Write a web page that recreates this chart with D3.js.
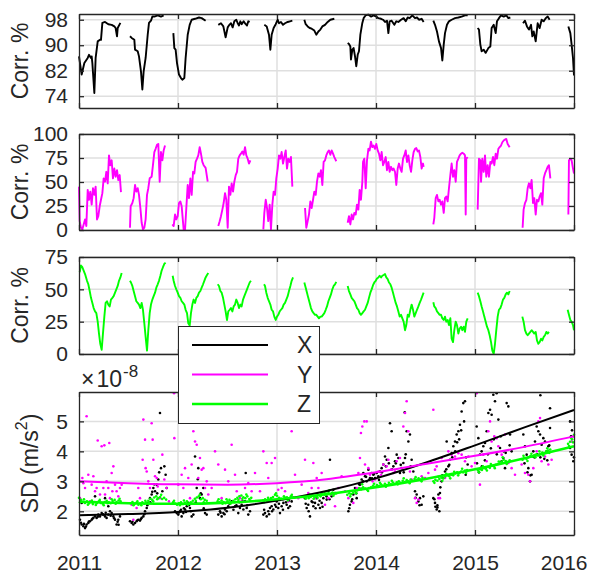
<!DOCTYPE html>
<html>
<head>
<meta charset="utf-8">
<script src="https://cdn.jsdelivr.net/npm/d3@7"></script>
<style>
  body { margin: 0; background: #fff; }
  svg { display: block; }
  text { font-family: "Liberation Sans", Arial, sans-serif; fill: #262626; }
  .axis text { font-size: 21px; fill: #262626; }
  .axis path, .axis line { stroke: #262626; stroke-width: 1.3; }
  .grid { stroke: #dfdfdf; stroke-width: 1.5; }
</style>
</head>
<body>
<div class="chart"></div>
<script>
// tick values
const years = [2011, 2012, 2013, 2014, 2015, 2016];
const corrXTicks = [74, 82, 90, 98];
const corrYTicks = [0, 25, 50, 75, 100];
const corrZTicks = [0, 25, 50, 75];
const sdTicks = [2, 3, 4, 5];

// correlation, X axis (decimal year, %), one array per gap-free segment
const corrX = [
  [[2011.000,86.5],[2011.027,80.8],[2011.054,84.4],[2011.088,86.0],[2011.101,87.0],[2011.121,86.0],[2011.128,86.5],[2011.135,84.4],[2011.155,75.0],[2011.168,86.0],[2011.189,91.2],[2011.212,91.7],[2011.222,91.7],[2011.236,97.0],[2011.263,97.3],[2011.296,96.6],[2011.330,96.4],[2011.357,95.9],[2011.370,95.4],[2011.384,92.8],[2011.391,95.4],[2011.418,97.0]],
  [[2011.515,92.8],[2011.532,92.3],[2011.559,91.7],[2011.566,88.6],[2011.593,88.1],[2011.606,86.5],[2011.626,81.8],[2011.640,76.1],[2011.653,81.8],[2011.673,86.0],[2011.694,93.3],[2011.707,97.0],[2011.727,97.7],[2011.741,99.0],[2011.761,99.0],[2011.795,99.4],[2011.828,99.0],[2011.855,99.4]],
  [[2011.953,93.8],[2011.963,89.1],[2011.976,88.6],[2011.990,84.4],[2012.010,80.8],[2012.030,79.7],[2012.044,79.2],[2012.064,79.7],[2012.077,86.0],[2012.098,93.3],[2012.118,96.4],[2012.138,98.0],[2012.172,98.3],[2012.212,98.7],[2012.239,98.5],[2012.279,97.7]],
  [[2012.407,96.4],[2012.434,96.9],[2012.458,95.9],[2012.481,92.5],[2012.502,95.6],[2012.519,96.4],[2012.535,96.9],[2012.552,95.6],[2012.569,97.5],[2012.589,98.0],[2012.603,96.9],[2012.616,96.2],[2012.630,97.5],[2012.643,96.6],[2012.663,97.5],[2012.684,96.6],[2012.697,96.2],[2012.710,97.5],[2012.724,97.3]],
  [[2012.872,96.4],[2012.896,95.9],[2012.919,93.3],[2012.933,88.6],[2012.946,93.3],[2012.966,95.4],[2012.987,96.6],[2013.007,98.0],[2013.020,96.9],[2013.040,97.3],[2013.061,96.4],[2013.081,96.9],[2013.108,97.3],[2013.131,97.5],[2013.155,97.7]],
  [[2013.276,98.0],[2013.290,96.6],[2013.310,95.9],[2013.330,95.4],[2013.350,95.2],[2013.377,94.6],[2013.397,93.3],[2013.418,94.3],[2013.438,94.9],[2013.458,95.9],[2013.485,96.4],[2013.512,97.3],[2013.539,98.0],[2013.579,98.3]],
  [[2013.714,90.7],[2013.727,90.4],[2013.741,89.6],[2013.747,85.5],[2013.761,88.6],[2013.774,89.1],[2013.788,86.5],[2013.801,83.4],[2013.815,87.0],[2013.828,88.1],[2013.842,93.3],[2013.862,97.0],[2013.875,98.5],[2013.896,99.4],[2013.923,99.6],[2013.949,99.0],[2013.976,99.4],[2014.003,99.0],[2014.024,98.5],[2014.051,98.3],[2014.071,98.0],[2014.091,97.3],[2014.111,97.7],[2014.125,93.8],[2014.138,97.5],[2014.158,97.7],[2014.185,96.4],[2014.205,97.5],[2014.226,97.3],[2014.253,98.0],[2014.279,98.5],[2014.300,97.5],[2014.320,98.7],[2014.340,98.5],[2014.367,99.4],[2014.394,98.5],[2014.414,98.7],[2014.434,98.0],[2014.461,98.3],[2014.481,97.3]],
  [[2014.579,97.7],[2014.596,96.4],[2014.616,94.3],[2014.636,91.2],[2014.657,89.1],[2014.670,85.2],[2014.684,90.2],[2014.697,93.8],[2014.717,96.4],[2014.737,97.5],[2014.764,98.0],[2014.798,98.5],[2014.832,98.7],[2014.865,99.0],[2014.899,99.4],[2014.926,99.4]],
  [[2015.027,95.4],[2015.040,94.9],[2015.054,90.2],[2015.067,88.1],[2015.088,88.6],[2015.108,87.6],[2015.135,89.1],[2015.155,89.6],[2015.168,95.4],[2015.189,96.4],[2015.209,93.8],[2015.222,97.5],[2015.242,98.5],[2015.263,99.4],[2015.290,99.0],[2015.316,99.4],[2015.337,98.5],[2015.357,98.7]],
  [[2015.485,96.9],[2015.505,97.7],[2015.525,95.9],[2015.545,94.9],[2015.566,96.4],[2015.579,92.8],[2015.593,94.3],[2015.613,91.2],[2015.633,96.9],[2015.653,95.4],[2015.673,98.0],[2015.694,97.5],[2015.714,98.5],[2015.734,99.0],[2015.754,98.0]],
  [[2015.943,95.9],[2015.963,93.8],[2015.976,90.2],[2015.990,86.0],[2016.000,80.5]]
];

// correlation, Y axis
const corrY = [
  [[2011.000,45.2],[2011.007,9.2],[2011.020,2.4],[2011.034,0.7],[2011.047,5.8],[2011.061,11.0],[2011.074,4.1],[2011.088,41.8],[2011.101,31.5],[2011.114,40.0],[2011.128,26.4],[2011.141,43.5],[2011.155,36.6],[2011.168,45.2],[2011.182,11.0],[2011.195,14.4],[2011.209,24.7],[2011.222,31.5],[2011.236,38.4],[2011.249,53.8],[2011.263,50.3],[2011.276,60.6],[2011.290,48.6],[2011.303,77.7],[2011.316,67.5],[2011.330,72.6],[2011.343,53.8],[2011.357,64.0],[2011.370,55.5],[2011.384,62.3],[2011.397,52.0],[2011.411,57.2],[2011.424,39.4]],
  [[2011.515,2.4],[2011.522,24.7],[2011.539,28.1],[2011.552,33.2],[2011.566,46.9],[2011.579,40.0],[2011.593,43.5],[2011.606,36.6],[2011.620,22.9],[2011.633,7.5],[2011.646,0.7],[2011.660,2.4],[2011.673,11.0],[2011.687,36.6],[2011.700,43.5],[2011.714,53.8],[2011.734,55.5],[2011.747,67.5],[2011.761,81.2],[2011.774,84.6],[2011.788,88.7],[2011.801,89.7],[2011.815,50.3],[2011.828,81.2],[2011.842,72.6],[2011.855,82.9],[2011.869,88.0]],
  [[2011.943,5.8],[2011.956,4.1],[2011.970,16.1],[2011.983,11.0],[2011.997,14.4],[2012.010,28.1],[2012.024,29.8],[2012.037,24.7],[2012.057,0.7],[2012.071,0.0],[2012.084,22.9],[2012.098,46.9],[2012.111,33.2],[2012.125,53.8],[2012.138,36.6],[2012.152,60.6],[2012.165,58.9],[2012.178,70.9],[2012.192,74.3],[2012.205,77.7],[2012.219,86.3],[2012.232,79.5],[2012.246,70.9],[2012.259,67.5],[2012.279,64.7],[2012.300,50.3]],
  [[2012.407,4.1],[2012.421,9.2],[2012.434,14.4],[2012.448,21.2],[2012.461,28.1],[2012.475,38.4],[2012.488,31.5],[2012.502,2.4],[2012.515,45.2],[2012.529,36.6],[2012.542,48.6],[2012.556,40.0],[2012.569,50.3],[2012.583,57.2],[2012.596,60.6],[2012.609,74.3],[2012.623,77.7],[2012.636,79.5],[2012.650,81.8],[2012.663,78.4],[2012.677,86.3],[2012.690,77.7],[2012.704,74.3],[2012.717,69.2],[2012.731,72.6]],
  [[2012.862,0.7],[2012.872,17.8],[2012.886,31.5],[2012.899,22.9],[2012.912,9.2],[2012.926,26.4],[2012.939,0.7],[2012.953,26.4],[2012.966,40.0],[2012.980,36.6],[2012.993,53.8],[2013.007,64.0],[2013.020,77.7],[2013.034,74.3],[2013.047,81.2],[2013.061,69.2],[2013.074,76.0],[2013.088,82.9],[2013.101,64.0],[2013.114,74.3],[2013.128,70.9],[2013.141,76.0],[2013.155,45.2]],
  [[2013.283,22.9],[2013.296,2.4],[2013.310,9.2],[2013.323,16.1],[2013.337,29.8],[2013.350,22.9],[2013.364,31.5],[2013.377,40.0],[2013.391,36.6],[2013.404,50.3],[2013.418,58.9],[2013.431,55.5],[2013.444,62.3],[2013.458,46.9],[2013.471,70.9],[2013.485,72.6],[2013.498,77.7],[2013.512,81.2],[2013.525,82.9],[2013.539,78.4],[2013.552,82.9],[2013.566,79.5],[2013.579,76.0],[2013.599,71.6]],
  [[2013.714,7.5],[2013.727,14.4],[2013.741,5.8],[2013.754,16.1],[2013.768,11.0],[2013.781,17.8],[2013.795,16.1],[2013.808,26.4],[2013.822,21.2],[2013.835,41.8],[2013.848,31.5],[2013.862,50.3],[2013.869,70.9],[2013.882,74.3],[2013.896,43.5],[2013.909,72.6],[2013.923,84.6],[2013.936,82.9],[2013.949,92.1],[2013.963,86.3],[2013.976,88.0],[2013.990,84.6],[2014.003,89.7],[2014.017,82.9],[2014.030,79.5],[2014.044,72.6],[2014.057,81.2],[2014.071,67.5],[2014.084,70.9],[2014.098,76.0],[2014.111,62.3],[2014.125,70.9],[2014.138,60.6],[2014.152,65.8],[2014.165,62.3],[2014.178,64.0],[2014.192,60.6],[2014.205,46.9],[2014.219,64.0],[2014.232,69.2],[2014.246,64.0],[2014.259,60.6],[2014.273,74.3],[2014.286,77.7],[2014.300,82.9],[2014.313,70.9],[2014.327,77.7],[2014.340,67.5],[2014.354,60.6],[2014.367,72.6],[2014.380,81.2],[2014.394,84.6],[2014.407,85.3],[2014.421,81.8],[2014.434,82.9],[2014.448,76.0],[2014.461,64.0],[2014.475,69.2],[2014.481,65.8]],
  [[2014.579,5.8],[2014.589,12.7],[2014.603,33.2],[2014.616,36.6],[2014.630,29.8],[2014.643,31.5],[2014.657,26.4],[2014.670,29.8],[2014.684,17.8],[2014.697,33.2],[2014.710,34.9],[2014.724,29.8],[2014.737,43.5],[2014.751,57.2],[2014.764,69.2],[2014.778,55.5],[2014.791,62.3],[2014.805,50.3],[2014.818,70.9],[2014.832,74.3],[2014.845,77.7],[2014.859,79.5],[2014.872,80.5],[2014.886,79.5],[2014.899,77.7],[2014.906,16.1],[2014.912,74.3],[2014.926,76.0]],
  [[2015.027,21.2],[2015.040,74.3],[2015.054,72.6],[2015.061,50.3],[2015.074,74.3],[2015.088,60.6],[2015.101,77.7],[2015.114,55.5],[2015.128,67.5],[2015.141,55.5],[2015.155,70.9],[2015.168,69.2],[2015.182,76.0],[2015.195,67.5],[2015.209,79.5],[2015.222,74.3],[2015.236,84.6],[2015.249,86.3],[2015.263,88.0],[2015.276,91.4],[2015.290,93.2],[2015.303,94.2],[2015.316,94.9],[2015.330,89.7],[2015.350,86.3]],
  [[2015.481,2.4],[2015.491,21.2],[2015.505,28.1],[2015.519,31.5],[2015.532,43.5],[2015.545,48.6],[2015.559,43.5],[2015.572,52.1],[2015.586,28.1],[2015.599,33.2],[2015.613,16.1],[2015.626,31.5],[2015.640,29.8],[2015.653,34.9],[2015.667,38.4],[2015.680,26.4],[2015.694,53.8],[2015.707,58.9],[2015.721,62.3],[2015.734,65.8],[2015.747,67.5],[2015.761,53.8]],
  [[2015.943,16.1],[2015.949,72.6],[2015.963,74.3],[2015.976,72.6],[2015.990,64.0],[2016.000,58.9]]
];

// correlation, Z axis
const corrZ = [
  [[2011.007,63.2],[2011.020,68.4],[2011.034,67.1],[2011.047,64.5],[2011.061,61.8],[2011.081,56.6],[2011.094,53.9],[2011.108,48.7],[2011.121,43.4],[2011.135,39.5],[2011.148,35.5],[2011.162,32.9],[2011.175,31.6],[2011.189,25.0],[2011.202,15.8],[2011.215,7.9],[2011.229,3.2],[2011.242,15.8],[2011.256,28.9],[2011.269,39.5],[2011.283,40.8],[2011.296,38.2],[2011.310,36.8],[2011.323,42.1],[2011.337,43.4],[2011.350,44.7],[2011.364,47.4],[2011.377,50.0],[2011.391,52.6],[2011.404,56.6],[2011.418,59.2],[2011.431,62.6]],
  [[2011.515,56.6],[2011.525,55.3],[2011.539,52.6],[2011.552,48.7],[2011.566,44.7],[2011.579,40.8],[2011.593,39.5],[2011.606,38.2],[2011.620,35.5],[2011.633,39.5],[2011.646,34.2],[2011.660,23.7],[2011.673,13.2],[2011.687,2.6],[2011.700,18.4],[2011.714,31.6],[2011.727,38.2],[2011.741,42.1],[2011.754,44.7],[2011.768,47.4],[2011.781,51.3],[2011.795,53.9],[2011.808,56.6],[2011.822,60.5],[2011.835,64.5],[2011.848,67.1],[2011.862,69.7],[2011.875,70.5]],
  [[2011.946,60.5],[2011.956,56.6],[2011.970,52.6],[2011.983,50.0],[2011.997,47.4],[2012.010,44.7],[2012.024,43.4],[2012.037,40.8],[2012.051,39.5],[2012.064,38.2],[2012.077,34.2],[2012.091,31.6],[2012.104,23.7],[2012.118,22.0],[2012.131,31.6],[2012.145,38.2],[2012.158,42.1],[2012.172,39.5],[2012.185,43.4],[2012.199,44.7],[2012.212,47.4],[2012.226,48.7],[2012.239,51.3],[2012.253,53.9],[2012.266,56.6],[2012.279,59.2],[2012.293,61.1],[2012.306,62.6]],
  [[2012.401,53.9],[2012.414,52.6],[2012.428,48.7],[2012.441,47.4],[2012.455,43.4],[2012.468,38.2],[2012.481,32.9],[2012.495,26.3],[2012.508,32.9],[2012.522,34.2],[2012.535,35.5],[2012.549,32.9],[2012.562,36.8],[2012.576,38.2],[2012.589,42.1],[2012.603,39.5],[2012.616,35.5],[2012.630,38.2],[2012.643,36.8],[2012.657,42.1],[2012.670,44.7],[2012.684,47.4],[2012.697,50.0],[2012.710,52.6],[2012.724,55.3],[2012.737,56.6]],
  [[2012.869,53.9],[2012.879,52.6],[2012.892,47.4],[2012.906,43.4],[2012.919,40.8],[2012.933,38.2],[2012.946,34.2],[2012.960,32.9],[2012.973,28.9],[2012.987,26.3],[2013.000,28.9],[2013.013,30.3],[2013.027,32.9],[2013.040,34.2],[2013.054,35.5],[2013.067,38.2],[2013.081,39.5],[2013.094,42.1],[2013.108,44.7],[2013.121,48.7],[2013.135,52.6],[2013.148,56.6],[2013.162,59.2]],
  [[2013.276,55.3],[2013.290,51.3],[2013.303,47.4],[2013.316,43.4],[2013.330,39.5],[2013.343,35.5],[2013.357,32.9],[2013.370,31.6],[2013.384,30.3],[2013.397,30.3],[2013.411,28.9],[2013.424,27.6],[2013.438,28.9],[2013.451,28.9],[2013.465,30.3],[2013.478,31.6],[2013.492,34.2],[2013.505,36.8],[2013.519,40.8],[2013.532,43.4],[2013.545,46.1],[2013.559,50.0],[2013.572,52.6],[2013.586,53.9],[2013.599,55.8]],
  [[2013.714,52.6],[2013.727,48.7],[2013.741,46.1],[2013.754,43.4],[2013.768,42.1],[2013.781,40.8],[2013.795,38.2],[2013.808,35.5],[2013.822,34.2],[2013.835,31.6],[2013.848,30.3],[2013.862,31.6],[2013.875,32.9],[2013.889,34.2],[2013.902,36.8],[2013.916,39.5],[2013.929,43.4],[2013.943,47.4],[2013.956,50.0],[2013.970,53.2],[2013.983,55.3],[2013.997,56.6],[2014.010,58.4],[2014.024,59.2],[2014.037,60.5],[2014.051,59.2],[2014.064,60.5],[2014.077,61.1],[2014.091,61.8],[2014.104,59.2],[2014.118,57.9],[2014.131,55.3],[2014.145,53.9],[2014.158,51.3],[2014.172,47.4],[2014.185,43.4],[2014.199,39.5],[2014.212,36.8],[2014.226,32.9],[2014.239,28.9],[2014.253,30.3],[2014.266,27.6],[2014.279,25.0],[2014.293,18.4],[2014.306,22.4],[2014.320,30.3],[2014.333,28.9],[2014.347,34.2],[2014.360,38.2],[2014.374,34.2],[2014.387,28.9],[2014.401,31.6],[2014.414,34.2],[2014.428,36.8],[2014.441,39.5],[2014.455,42.1],[2014.468,44.7],[2014.481,47.4]],
  [[2014.579,40.0],[2014.589,36.8],[2014.603,35.5],[2014.616,32.9],[2014.630,31.6],[2014.643,30.3],[2014.657,30.3],[2014.670,27.6],[2014.684,26.3],[2014.697,28.9],[2014.710,25.0],[2014.724,26.3],[2014.737,22.4],[2014.751,27.6],[2014.764,11.8],[2014.778,9.2],[2014.791,18.4],[2014.805,25.0],[2014.818,22.4],[2014.832,15.8],[2014.845,19.7],[2014.859,21.1],[2014.872,18.4],[2014.886,21.1],[2014.899,17.1],[2014.912,25.0],[2014.926,27.6]],
  [[2015.027,47.4],[2015.040,44.7],[2015.054,40.8],[2015.067,36.8],[2015.081,32.9],[2015.094,28.9],[2015.108,25.0],[2015.121,21.1],[2015.135,18.4],[2015.148,14.5],[2015.162,9.2],[2015.175,2.6],[2015.189,0.0],[2015.202,7.9],[2015.215,18.4],[2015.229,28.9],[2015.242,34.2],[2015.256,35.5],[2015.269,38.2],[2015.283,42.1],[2015.296,43.4],[2015.310,46.1],[2015.323,47.4],[2015.337,46.1],[2015.350,48.7]],
  [[2015.478,28.9],[2015.491,25.0],[2015.505,18.4],[2015.519,15.8],[2015.532,14.5],[2015.545,15.8],[2015.559,17.1],[2015.572,18.4],[2015.586,17.1],[2015.599,15.8],[2015.613,17.1],[2015.626,10.5],[2015.640,7.9],[2015.653,9.2],[2015.667,11.8],[2015.680,10.5],[2015.694,13.2],[2015.707,14.5],[2015.721,17.1],[2015.734,15.8],[2015.747,17.1]],
  [[2015.936,34.2],[2015.949,30.3],[2015.963,26.3],[2015.976,25.0],[2015.990,22.4],[2016.000,18.4]]
];

// standard deviation, x 1e-8 m/s^2 (decimal year, value)
const sdX = [
  [2011.010,1.72],[2011.027,1.56],[2011.044,1.50],[2011.061,1.44],[2011.077,1.56],[2011.094,1.61],[2011.111,1.67],[2011.128,1.72],[2011.145,1.78],[2011.162,1.83],[2011.178,1.78],[2011.195,1.89],[2011.212,1.83],[2011.229,1.94],[2011.246,1.89],[2011.263,1.83],[2011.279,1.78],[2011.296,1.89],[2011.313,2.00],[2011.330,1.94],[2011.347,1.83],[2011.364,1.72],[2011.380,1.56],[2011.397,1.72],[2011.414,1.83],[2011.027,2.28],[2011.162,2.50],[2011.263,2.44],[2011.296,2.17],
  [2011.020,1.62],[2011.050,1.58],[2011.070,1.49],[2011.100,1.66],[2011.135,1.75],[2011.190,1.82],[2011.240,1.90],[2011.270,1.95],[2011.320,1.85],[2011.355,1.77],[2011.390,1.65],[2011.400,1.55],
  [2011.515,1.67],[2011.532,1.61],[2011.549,1.56],[2011.566,1.61],[2011.582,1.67],[2011.599,1.72],[2011.616,1.69],[2011.633,1.78],[2011.650,1.83],[2011.667,2.00],[2011.684,2.11],[2011.700,2.28],[2011.717,2.44],[2011.734,2.56],[2011.751,2.78],[2011.768,2.67],[2011.785,2.89],[2011.801,3.06],[2011.818,5.28],[2011.828,3.44],[2011.842,2.67],[2011.862,3.50],[2011.875,3.22],[2011.886,2.78],
  [2011.540,1.65],[2011.590,1.70],[2011.625,1.74],[2011.660,1.90],[2011.690,2.20],[2011.720,2.30],[2011.740,2.65],[2011.760,2.90],[2011.790,2.60],[2011.810,3.30],
  [2011.970,2.00],[2011.987,1.94],[2012.003,1.89],[2012.020,2.00],[2012.037,1.83],[2012.054,1.94],[2012.071,2.06],[2012.088,2.17],[2012.104,2.28],[2012.121,2.11],[2012.138,1.83],[2012.155,1.89],[2012.172,3.83],[2012.189,2.78],[2012.205,3.44],[2012.222,2.44],[2012.239,2.56],[2012.256,2.78],[2012.273,1.94],[2012.290,1.89],
  [2012.010,1.96],[2012.030,2.05],[2012.060,2.10],[2012.080,1.98],[2012.110,2.20],[2012.130,2.00],[2012.180,2.30],[2012.200,3.07],[2012.230,2.60],[2012.260,2.10],
  [2012.407,1.89],[2012.424,2.00],[2012.441,1.83],[2012.458,1.94],[2012.475,2.06],[2012.492,2.00],[2012.508,2.17],[2012.542,2.33],[2012.576,2.17],[2012.609,1.94],[2012.626,2.11],[2012.643,2.22],[2012.660,2.06],[2012.677,2.33],[2012.684,3.28],[2012.694,2.11],[2012.710,1.89],[2012.727,2.00],
  [2012.430,1.95],[2012.470,1.90],[2012.520,2.25],[2012.560,2.05],[2012.590,2.20],[2012.620,2.30],[2012.650,2.35],[2012.700,2.20],
  [2012.862,1.89],[2012.879,1.94],[2012.896,1.83],[2012.912,2.00],[2012.929,2.11],[2012.946,2.17],[2012.963,2.06],[2012.980,2.22],[2012.997,2.33],[2013.013,2.11],[2013.030,1.94],[2013.047,2.17],[2013.064,2.28],[2013.081,2.44],[2013.098,2.22],[2013.114,2.11],[2013.131,2.17],[2013.148,2.33],
  [2012.870,2.05],[2012.920,1.90],[2012.950,2.00],[2012.990,2.15],[2013.020,2.25],[2013.060,2.05],[2013.090,2.30],[2013.120,2.35],
  [2013.283,2.44],[2013.300,2.11],[2013.316,2.22],[2013.333,1.83],[2013.350,2.33],[2013.367,2.17],[2013.384,2.28],[2013.401,2.44],[2013.418,2.22],[2013.434,2.11],[2013.451,2.28],[2013.468,2.44],[2013.485,2.56],[2013.502,2.39],[2013.519,2.67],[2013.535,3.72],[2013.552,2.50],[2013.569,2.72],[2013.586,2.61],
  [2013.290,2.25],[2013.320,2.00],[2013.360,2.30],[2013.390,2.10],[2013.430,2.35],[2013.460,2.15],[2013.500,2.50],[2013.530,2.40],[2013.560,2.60],
  [2013.721,2.00],[2013.737,2.22],[2013.754,2.33],[2013.771,2.56],[2013.788,2.78],[2013.805,2.44],[2013.822,2.72],[2013.838,2.89],[2013.855,3.06],[2013.872,3.28],[2013.889,3.17],[2013.906,3.00],[2013.923,3.39],[2013.939,3.11],[2013.956,3.28],[2013.973,3.22],[2013.990,3.11],[2014.007,3.28],[2014.024,3.17],[2014.040,3.33],[2014.057,3.44],[2014.074,3.56],[2014.091,3.83],[2014.108,3.72],[2014.125,4.11],[2014.141,4.94],[2014.158,4.67],[2014.175,3.50],[2014.192,3.67],[2014.209,3.89],[2014.226,3.78],[2014.242,3.28],[2014.259,3.44],[2014.276,3.61],[2014.290,5.30],[2014.293,3.78],[2014.310,4.67],[2014.327,4.33],[2014.343,4.56],[2014.360,3.72],[2014.377,3.33],[2014.394,2.67],[2014.411,2.56],[2014.428,2.33],[2014.444,2.44],[2014.461,2.22],[2014.478,2.50],
  [2013.730,2.10],[2013.760,2.40],[2013.800,2.60],[2013.830,2.90],[2013.850,2.75],[2013.870,3.00],[2013.900,3.15],[2013.930,3.05],[2013.960,3.10],[2013.980,3.25],[2014.030,3.05],[2014.060,3.30],[2014.100,3.50],[2014.130,3.60],[2014.160,3.40],[2014.200,3.60],[2014.250,3.55],[2014.280,3.30],[2014.300,3.90],[2014.350,3.50],[2014.400,2.45],[2014.440,2.20],
  [2014.579,2.44],[2014.596,2.28],[2014.613,2.06],[2014.620,2.13],[2014.630,2.56],[2014.640,2.00],[2014.646,2.61],[2014.663,3.00],[2014.680,3.11],[2014.697,3.33],[2014.714,4.33],[2014.731,3.50],[2014.747,3.72],[2014.764,3.94],[2014.781,4.17],[2014.798,4.33],[2014.815,4.56],[2014.832,4.67],[2014.848,4.89],[2014.865,5.33],[2014.882,5.61],[2014.899,5.67],[2014.906,3.22],[2014.926,3.56],
  [2014.590,2.40],[2014.600,2.15],[2014.620,2.20],[2014.650,2.80],[2014.670,3.20],[2014.710,3.40],[2014.740,3.55],[2014.770,3.80],[2014.800,4.00],[2014.820,4.30],[2014.840,4.40],[2014.860,4.70],[2014.890,5.00],[2014.910,3.80],
  [2015.017,4.83],[2015.034,4.44],[2015.050,3.89],[2015.067,4.00],[2015.084,4.17],[2015.101,4.28],[2015.118,4.67],[2015.135,5.28],[2015.152,5.39],[2015.168,5.22],[2015.185,5.89],[2015.202,5.67],[2015.219,5.94],[2015.236,5.06],[2015.253,4.11],[2015.269,3.67],[2015.286,3.78],[2015.303,3.44],[2015.320,5.61],[2015.337,5.50],[2015.354,4.56],[2015.370,4.00],
  [2015.020,3.60],[2015.040,3.30],[2015.070,3.50],[2015.100,3.70],[2015.130,3.90],[2015.160,4.10],[2015.190,4.40],[2015.220,3.90],[2015.260,4.50],[2015.290,4.00],[2015.310,3.95],[2015.350,4.20],
  [2015.488,4.56],[2015.505,4.17],[2015.522,3.89],[2015.539,3.44],[2015.556,3.00],[2015.572,3.22],[2015.589,4.00],[2015.606,4.33],[2015.623,4.83],[2015.640,4.67],[2015.657,4.56],[2015.660,5.87],[2015.673,4.22],[2015.690,4.44],[2015.707,4.33],[2015.724,4.00],[2015.741,4.17],[2015.758,4.78],[2015.758,5.44],
  [2015.500,3.60],[2015.530,3.30],[2015.560,3.20],[2015.600,3.80],[2015.630,3.90],[2015.660,3.80],[2015.700,3.75],[2015.730,3.70],[2015.750,4.20],
  [2015.960,4.11],[2015.976,3.89],[2015.993,3.67],[2015.960,5.00],[2015.980,4.70],[2016.000,3.80],[2015.970,4.50]
];

const sdY = [
  [2011.010,2.44],[2011.034,3.11],[2011.044,2.94],[2011.061,2.78],[2011.077,5.17],[2011.094,3.22],[2011.111,2.33],[2011.128,2.89],[2011.145,3.17],[2011.162,2.67],[2011.178,2.78],[2011.189,4.36],[2011.212,2.56],[2011.229,4.17],[2011.246,2.78],[2011.256,4.20],[2011.263,2.56],[2011.279,3.00],[2011.296,2.78],[2011.306,4.28],[2011.313,2.44],[2011.330,3.28],[2011.337,2.67],[2011.347,3.50],[2011.364,2.89],[2011.380,2.67],[2011.397,2.50],[2011.414,2.78],[2011.431,2.89],
  [2011.532,2.22],[2011.549,1.72],[2011.582,2.11],[2011.599,2.78],[2011.616,2.44],[2011.643,3.72],[2011.650,5.06],[2011.667,4.39],[2011.673,3.44],[2011.684,3.33],[2011.700,3.00],[2011.717,2.78],[2011.734,4.94],[2011.744,4.39],[2011.751,3.72],[2011.768,3.17],[2011.785,3.11],[2011.795,2.83],[2011.818,2.44],[2011.842,3.89],[2011.862,3.06],[2011.886,2.78],[2011.909,2.33],
  [2011.960,5.94],[2011.963,4.44],[2012.003,2.89],[2012.037,3.22],[2012.054,2.78],[2012.071,3.44],[2012.104,3.11],[2012.121,2.44],[2012.138,3.56],[2012.155,4.67],[2012.172,4.33],[2012.189,4.22],[2012.205,3.11],[2012.222,3.78],[2012.239,3.39],[2012.256,3.44],[2012.273,2.78],[2012.290,3.00],[2012.306,2.56],
  [2012.340,2.78],[2012.374,4.00],[2012.407,3.56],[2012.441,2.44],[2012.475,3.39],[2012.508,3.00],[2012.542,4.22],[2012.576,3.22],[2012.593,2.67],[2012.626,2.44],[2012.643,2.33],[2012.677,2.78],[2012.710,2.94],[2012.744,2.67],[2012.778,3.28],[2012.828,2.67],
  [2012.862,4.00],[2012.896,3.61],[2012.912,3.11],[2012.946,3.61],[2012.980,3.78],[2013.013,2.72],[2013.047,2.78],[2013.081,2.67],[2013.114,2.33],[2013.148,4.67],[2013.182,3.22],[2013.215,2.44],[2013.249,2.89],
  [2013.283,3.72],[2013.316,2.61],[2013.350,2.78],[2013.367,3.61],[2013.384,2.44],[2013.401,3.11],[2013.418,2.78],[2013.451,3.28],[2013.485,2.22],[2013.519,2.44],[2013.552,2.56],[2013.586,2.17],[2013.620,2.78],[2013.653,3.17],[2013.687,2.67],
  [2013.721,2.44],[2013.771,2.28],[2013.805,2.78],[2013.822,3.28],[2013.838,3.78],[2013.848,4.61],[2013.862,4.83],[2013.882,5.00],[2013.889,3.56],[2013.906,5.00],[2013.923,3.44],[2013.939,3.22],[2013.966,3.00],[2013.990,3.06],
  [2014.024,3.33],[2014.051,3.22],[2014.074,3.56],[2014.108,3.50],[2014.125,3.72],[2014.152,3.39],[2014.175,3.28],[2014.192,3.33],[2014.209,3.67],[2014.242,3.78],[2014.276,4.83],[2014.293,5.28],[2014.310,5.67],[2014.327,4.67],[2014.343,3.33],[2014.360,3.06],[2014.394,2.44],[2014.411,2.28],[2014.428,2.39],[2014.461,3.17],[2014.495,3.11],[2014.529,3.28],
  [2014.579,5.39],[2014.596,3.39],[2014.613,3.50],[2014.630,2.44],[2014.646,2.44],[2014.663,3.78],[2014.697,3.11],[2014.731,4.00],[2014.764,3.89],[2014.798,3.83],[2014.832,3.94],[2014.865,3.89],[2014.899,3.67],[2014.933,3.83],[2014.966,3.50],
  [2015.000,3.61],[2015.017,5.94],[2015.050,2.89],[2015.067,3.44],[2015.084,3.89],[2015.118,3.67],[2015.135,4.67],[2015.152,5.00],[2015.168,4.33],[2015.195,4.50],[2015.219,4.44],[2015.236,4.17],[2015.269,3.89],[2015.303,4.56],[2015.337,3.61],[2015.370,3.44],[2015.404,3.22],
  [2015.471,3.56],[2015.505,3.28],[2015.539,3.22],[2015.556,3.00],[2015.589,3.44],[2015.623,4.00],[2015.640,5.00],[2015.657,5.11],[2015.673,3.67],[2015.707,3.83],[2015.741,3.56],[2015.774,3.72],
  [2015.976,4.33],[2015.993,4.50]
];

const sdZ = [
  [2011.00,2.45],[2011.02,2.38],[2011.04,2.32],[2011.06,2.28],[2011.08,2.33],[2011.10,2.26],[2011.12,2.30],[2011.14,2.24],[2011.16,2.31],[2011.18,2.27],[2011.20,2.33],[2011.22,2.28],[2011.24,2.25],[2011.26,2.31],[2011.28,2.35],[2011.30,2.30],[2011.32,2.27],[2011.34,2.34],[2011.36,2.38],[2011.38,2.31],[2011.40,2.36],[2011.42,2.33],
  [2011.01,2.30],[2011.05,2.40],[2011.09,2.22],[2011.13,2.36],[2011.17,2.21],[2011.21,2.38],[2011.25,2.20],[2011.29,2.27],[2011.33,2.40],[2011.37,2.25],[2011.41,2.42],
  [2011.52,2.27],[2011.54,2.31],[2011.56,2.24],[2011.58,2.28],[2011.60,2.22],[2011.62,2.26],[2011.64,2.30],[2011.66,2.25],[2011.68,2.29],[2011.70,2.35],[2011.72,2.42],[2011.74,2.38],[2011.76,2.46],[2011.78,2.50],[2011.80,2.44],[2011.82,2.48],[2011.84,2.41],[2011.86,2.45],[2011.88,2.39],
  [2011.55,2.20],[2011.59,2.33],[2011.63,2.20],[2011.67,2.35],[2011.71,2.28],[2011.75,2.33],[2011.79,2.40],[2011.83,2.55],
  [2011.95,2.30],[2011.97,2.26],[2011.99,2.22],[2012.01,2.27],[2012.03,2.30],[2012.05,2.24],[2012.07,2.28],[2012.09,2.33],[2012.11,2.26],[2012.13,2.30],[2012.15,2.35],[2012.17,2.42],[2012.19,2.46],[2012.21,2.50],[2012.23,2.40],[2012.25,2.44],[2012.27,2.38],[2012.29,2.35],
  [2011.96,2.35],[2012.02,2.20],[2012.06,2.36],[2012.10,2.22],[2012.14,2.25],[2012.18,2.35],[2012.22,2.55],[2012.26,2.30],
  [2012.40,2.33],[2012.42,2.30],[2012.44,2.36],[2012.46,2.31],[2012.48,2.27],[2012.50,2.33],[2012.52,2.38],[2012.54,2.30],[2012.56,2.35],[2012.58,2.40],[2012.60,2.45],[2012.62,2.50],[2012.64,2.53],[2012.66,2.47],[2012.68,2.44],[2012.70,2.50],[2012.72,2.41],[2012.74,2.45],
  [2012.41,2.40],[2012.45,2.25],[2012.49,2.40],[2012.53,2.25],[2012.57,2.30],[2012.61,2.38],[2012.65,2.42],[2012.69,2.56],[2012.73,2.36],
  [2012.86,2.36],[2012.88,2.40],[2012.90,2.33],[2012.92,2.38],[2012.94,2.44],[2012.96,2.48],[2012.98,2.55],[2013.00,2.52],[2013.02,2.45],[2013.04,2.42],[2013.06,2.40],[2013.08,2.45],[2013.10,2.47],[2013.12,2.42],[2013.14,2.50],[2013.16,2.46],
  [2012.87,2.30],[2012.91,2.45],[2012.95,2.36],[2012.99,2.60],[2013.03,2.38],[2013.07,2.50],[2013.11,2.36],[2013.15,2.55],
  [2013.28,2.47],[2013.30,2.50],[2013.32,2.44],[2013.34,2.48],[2013.36,2.52],[2013.38,2.47],[2013.40,2.50],[2013.42,2.55],[2013.44,2.50],[2013.46,2.57],[2013.48,2.62],[2013.50,2.66],[2013.52,2.60],[2013.54,2.56],[2013.56,2.63],[2013.58,2.58],[2013.60,2.60],
  [2013.29,2.42],[2013.33,2.56],[2013.37,2.42],[2013.41,2.45],[2013.45,2.60],[2013.49,2.55],[2013.53,2.70],[2013.57,2.52],
  [2013.71,2.55],[2013.73,2.60],[2013.75,2.58],[2013.77,2.62],[2013.79,2.66],[2013.81,2.70],[2013.83,2.78],[2013.85,2.74],[2013.87,2.80],[2013.89,2.76],[2013.91,2.72],[2013.93,2.78],[2013.95,2.80],[2013.97,2.85],[2013.99,2.82],[2014.01,2.88],[2014.03,2.84],[2014.05,2.90],[2014.07,2.86],[2014.09,2.92],[2014.11,2.88],[2014.13,2.95],[2014.15,2.90],[2014.17,2.96],[2014.19,2.92],[2014.21,2.97],[2014.23,3.00],[2014.25,2.95],[2014.27,3.02],[2014.29,2.98],[2014.31,3.04],[2014.33,3.00],[2014.35,3.06],[2014.37,3.02],[2014.39,3.08],[2014.41,3.05],[2014.43,3.10],[2014.45,3.06],[2014.47,3.12],
  [2013.74,2.50],[2013.80,2.60],[2013.86,2.90],[2013.92,2.68],[2013.98,2.92],[2014.04,2.95],[2014.10,2.82],[2014.16,3.02],[2014.22,2.90],[2014.28,3.10],[2014.34,2.94],[2014.40,3.14],[2014.46,3.00],
  [2014.58,3.00],[2014.60,3.05],[2014.62,3.02],[2014.64,3.08],[2014.66,3.12],[2014.68,3.10],[2014.70,3.16],[2014.72,3.20],[2014.74,3.17],[2014.76,3.22],[2014.78,3.20],[2014.80,3.26],[2014.82,3.30],[2014.84,3.27],[2014.86,3.33],[2014.88,3.30],[2014.90,3.36],[2014.92,3.38],
  [2014.59,2.95],[2014.63,3.15],[2014.67,3.02],[2014.71,3.25],[2014.75,3.10],[2014.79,3.32],[2014.83,3.20],[2014.87,3.42],[2014.91,3.28],
  [2015.03,3.36],[2015.05,3.40],[2015.07,3.38],[2015.09,3.44],[2015.11,3.42],[2015.13,3.48],[2015.15,3.45],[2015.17,3.52],[2015.19,3.50],[2015.21,3.55],[2015.23,3.58],[2015.25,3.60],[2015.27,3.66],[2015.29,3.72],[2015.31,3.68],[2015.33,3.64],[2015.35,3.70],
  [2015.04,3.30],[2015.08,3.50],[2015.12,3.36],[2015.16,3.58],[2015.20,3.44],[2015.24,3.66],[2015.28,3.80],[2015.32,3.58],
  [2015.48,3.72],[2015.50,3.78],[2015.52,3.75],[2015.54,3.80],[2015.56,3.84],[2015.58,3.82],[2015.60,3.88],[2015.62,3.90],[2015.64,3.86],[2015.66,3.92],[2015.68,3.96],[2015.70,3.94],[2015.72,4.00],[2015.74,4.03],[2015.76,4.06],
  [2015.49,3.85],[2015.53,3.68],[2015.57,3.92],[2015.61,3.80],[2015.65,4.00],[2015.69,3.86],[2015.73,4.10],[2015.75,3.95],
  [2015.94,4.25],[2015.96,4.32],[2015.98,4.40],[2016.00,4.55],[2015.95,4.18],[2015.97,4.45],[2015.99,4.30]
];

// fitted trends of the standard deviation
const fitX = [[2011,1.87],[2011.5,1.91],[2012,1.98],[2012.5,2.12],[2013,2.36],[2013.5,2.68],[2014,3.1],[2014.5,3.62],[2015,4.2],[2015.5,4.8],[2016,5.38]];
const fitY = [[2011,3.0],[2011.5,2.94],[2012,2.9],[2012.5,2.89],[2013,2.94],[2013.5,3.07],[2014,3.3],[2014.5,3.58],[2015,3.85],[2015.5,4.15],[2016,4.5]];
const fitZ = [[2011,2.32],[2011.5,2.27],[2012,2.25],[2012.5,2.29],[2013,2.4],[2013.5,2.57],[2014,2.8],[2014.5,3.08],[2015,3.4],[2015.5,3.77],[2016,4.17]];

const legendNames = ["X", "Y", "Z"];
const colors = ["#000000", "#ff00ff", "#00ff00"];

// global svg variables
let width = 589;
let height = 573;
let left = 79;
let right = 574;

let x = d3.scaleLinear().domain([2011, 2016]).range([left, right]);

let svg = d3
  .select(".chart")
  .append("svg")
  .attr("width", width)
  .attr("height", height);

// one boxed panel: grid below, plot group, axes on top
let makePanel = (top, bottom, domain, ticks, showYears) => {
  let y = d3.scaleLinear().domain(domain).range([bottom, top]);
  let g = svg.append("g");

  let grid = g.append("g");
  grid
    .selectAll(".gx")
    .data(years.slice(1, -1))
    .enter()
    .append("line")
    .attr("class", "grid")
    .attr("x1", d => x(d))
    .attr("x2", d => x(d))
    .attr("y1", top)
    .attr("y2", bottom);
  grid
    .selectAll(".gy")
    .data(ticks)
    .enter()
    .append("line")
    .attr("class", "grid")
    .attr("x1", left)
    .attr("x2", right)
    .attr("y1", d => y(d))
    .attr("y2", d => y(d));

  let plot = g.append("g");

  let axes = g.append("g");
  axes
    .append("g")
    .attr("class", "axis")
    .attr("transform", `translate(${left},0)`)
    .call(
      d3.axisLeft(y)
        .tickValues(ticks)
        .tickSize(-5)
        .tickSizeOuter(0)
        .tickPadding(11)
        .tickFormat(d3.format("d"))
    );
  axes
    .append("g")
    .attr("class", "axis")
    .attr("transform", `translate(${right},0)`)
    .call(d3.axisRight(y).tickValues(ticks).tickSize(-5).tickSizeOuter(0).tickFormat(""));
  axes
    .append("g")
    .attr("class", "axis")
    .attr("transform", `translate(0,${top})`)
    .call(d3.axisTop(x).tickValues(years).tickSize(-5).tickSizeOuter(0).tickFormat(""));
  let bottomAxis = axes
    .append("g")
    .attr("class", "axis")
    .attr("transform", `translate(0,${bottom})`)
    .call(
      d3.axisBottom(x)
        .tickValues(years)
        .tickSize(-5)
        .tickSizeOuter(0)
        .tickPadding(20)
        .tickFormat(showYears ? d3.format("d") : "")
    );

  // last year label is pushed inside the window, as in the original figure
  if (showYears) {
    bottomAxis
      .selectAll(".tick text")
      .filter(d => d == 2016)
      .attr("text-anchor", "end")
      .attr("x", 13);
  }

  return { plot, y, top, bottom };
};

let yLabel = (p, px) => {
  svg
    .append("text")
    .attr("transform", `translate(${px},${(p.top + p.bottom) / 2}) rotate(-90)`)
    .attr("text-anchor", "middle")
    .style("font-size", "23px")
    .text("Corr. %");
};

let drawSegments = (p, segments, color) => {
  let line = d3
    .line()
    .x(d => x(d[0]))
    .y(d => p.y(d[1]));
  p.plot
    .selectAll(".seg")
    .data(segments)
    .enter()
    .append("path")
    .attr("d", line)
    .attr("fill", "none")
    .attr("stroke", color)
    .attr("stroke-width", 1.9)
    .attr("stroke-linejoin", "round");
};

// correlation panels
let p1 = makePanel(14, 108, [70.3, 99.8], corrXTicks, false);
drawSegments(p1, corrX, colors[0]);
yLabel(p1, 28);

let p2 = makePanel(134, 230, [0, 100], corrYTicks, false);
drawSegments(p2, corrY, colors[1]);
yLabel(p2, 28);

let p3 = makePanel(257, 354, [0, 75], corrZTicks, false);
drawSegments(p3, corrZ, colors[2]);
yLabel(p3, 28);

// standard deviation panel
let p4 = makePanel(392, 535, [1.21, 5.98], sdTicks, true);

[sdX, sdY, sdZ].forEach((pts, i) => {
  p4.plot
    .append("g")
    .selectAll("circle")
    .data(pts)
    .enter()
    .append("circle")
    .attr("cx", d => x(d[0]))
    .attr("cy", d => p4.y(d[1]))
    .attr("r", 1.3)
    .attr("fill", colors[i]);
});

[fitX, fitY, fitZ].forEach((pts, i) => {
  p4.plot
    .append("path")
    .attr(
      "d",
      d3.line()
        .x(d => x(d[0]))
        .y(d => p4.y(d[1]))
        .curve(d3.curveMonotoneX)(pts)
    )
    .attr("fill", "none")
    .attr("stroke", colors[i])
    .attr("stroke-width", i == 2 ? 2.6 : 2);
});

// SD label with superscript
let sdLabel = svg
  .append("text")
  .attr("transform", `translate(38,${(p4.top + p4.bottom) / 2}) rotate(-90)`)
  .attr("text-anchor", "middle")
  .style("font-size", "23px");
sdLabel.append("tspan").text("SD (m/s");
sdLabel.append("tspan").attr("dy", -11).style("font-size", "16px").text("2");
sdLabel.append("tspan").attr("dy", 11).text(")");

// exponent above the panel
let expo = svg
  .append("text")
  .attr("x", 81)
  .attr("y", 387)
  .style("font-size", "23px");
expo.append("tspan").text("\u00d7");
expo.append("tspan").attr("dx", 2).text("10");
expo.append("tspan").attr("dy", -10).attr("dx", 1).style("font-size", "17px").text("-8");

// legend
let legend = svg.append("g").attr("id", "legend");
legend
  .append("rect")
  .attr("x", 178.5)
  .attr("y", 326.5)
  .attr("width", 141)
  .attr("height", 97)
  .attr("fill", "#fff")
  .attr("stroke", "#262626")
  .attr("stroke-width", 1);

let rows = legend
  .selectAll(".row")
  .data(legendNames)
  .enter()
  .append("g")
  .attr("transform", (d, i) => `translate(0,${345 + i * 29.5})`);
rows
  .append("line")
  .attr("x1", 192)
  .attr("x2", 268)
  .attr("stroke", (d, i) => colors[i])
  .attr("stroke-width", (d, i) => (i == 2 ? 2.6 : 2));
rows
  .append("text")
  .attr("x", 297)
  .attr("dy", "0.36em")
  .style("font-size", "23px")
  .text(d => d);
</script>
</body>
</html>
